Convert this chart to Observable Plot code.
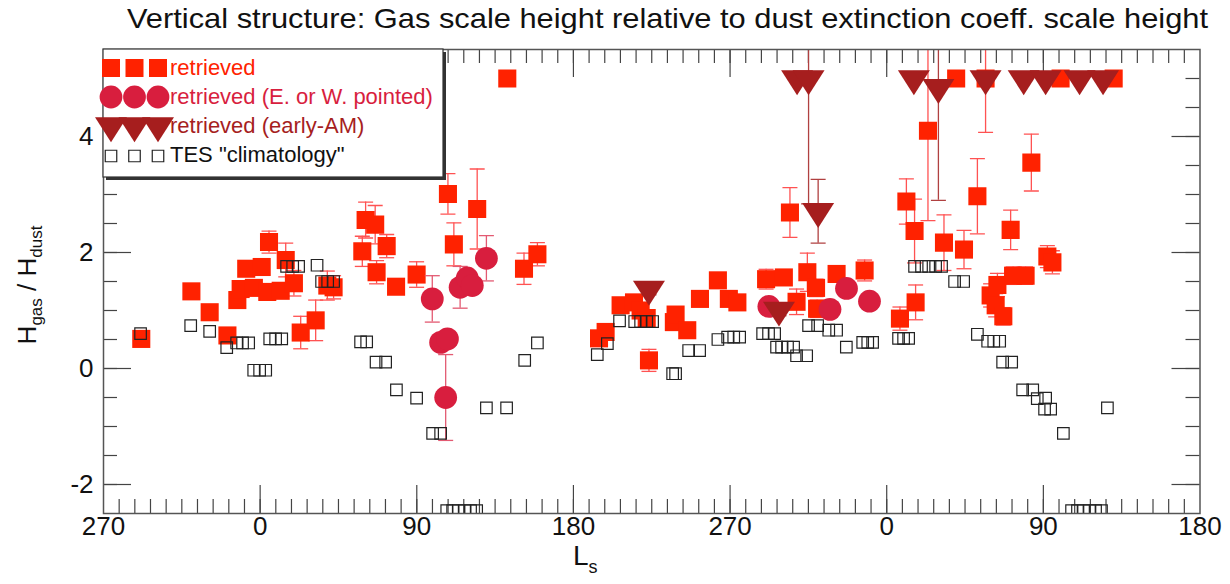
<!DOCTYPE html>
<html>
<head>
<meta charset="utf-8">
<script src="https://cdn.jsdelivr.net/npm/d3@7"></script>
<script src="https://cdn.jsdelivr.net/npm/@observablehq/plot@0.6"></script>
<style>
html, body { margin: 0; padding: 0; background: #fff; }
#wrap { position: relative; width: 1230px; height: 584px; }
</style>
</head>
<body>
<div id="wrap"></div>
<script>
// ---------------- DATA ----------------
// Ls is counted cumulatively: -90 = Ls 270 of the previous year, 0..360 first year, 360..540 second year.
const xTickPositions = [-90, 0, 90, 180, 270, 360, 450, 540];
const xTickLabels = ["270", "0", "90", "180", "270", "0", "90", "180"];
const yTickValues = [-2, 0, 2, 4];

// "retrieved" (red squares)
const retrievedLs = [-68.3, -39.5, -29.0, -18.8, -13.1, -11.2, -8.0, -3.6, 0.9, 4.1, 5.1, 11.8, 14.7, 19.4, 23.3, 31.9, 38.6, 42.2,
  58.7, 60.6, 66.1, 66.9, 72.7, 78.1, 89.9, 107.9, 111.3, 124.7, 142.0, 151.6, 159.3,
  194.7, 198.5, 207.1, 214.8, 218.6, 222.1, 223.4, 237.7, 238.7, 245.4, 252.7, 263.0, 269.3, 274.2,
  290.7, 300.9, 304.4, 308.2, 314.4, 319.4, 320.0, 331.2, 347.3,
  367.6, 371.3, 376.0, 376.6, 383.7, 392.9, 399.9, 404.4, 412.1, 416.8, 419.7, 422.6, 423.6, 427.0,
  431.2, 432.6, 439.8, 443.1, 452.3, 455.2, 459.9, 490.4];
const retrievedH = [0.51, 1.33, 0.97, 0.57, 1.18, 1.37, 1.72, 1.39, 1.75, 1.32, 2.18, 1.34, 1.87, 1.47, 0.62, 0.83, 1.43, 1.40,
  2.02, 2.56, 2.48, 1.66, 2.11, 1.41, 1.62, 3.01, 2.14, 2.75, 5.0, 1.72, 1.97,
  0.52, 0.63, 1.09, 1.14, 1.00, 0.87, 0.14, 0.80, 0.93, 0.66, 1.20, 1.52, 1.20, 1.14,
  1.54, 1.57, 2.69, 1.15, 1.66, 1.39, 1.03, 1.63, 1.69,
  0.86, 2.88, 2.37, 1.14, 4.10, 2.17, 5.0, 2.05, 2.97, 5.0, 1.26, 1.09, 1.44, 0.90,
  2.39, 1.60, 1.60, 3.55, 1.93, 1.83, 5.0, 5.0];
const retrievedErr = [0.05, 0.05, 0.05, 0.08, 0.10, 0.10, 0.10, 0.10, 0.10, 0.10, 0.19, 0.10, 0.29, 0.22, 0.28, 0.35, 0.25, 0.20,
  0.26, 0.31, 0.33, 0.20, 0.20, 0.10, 0.22, 0.35, 0.37, 0.69, 0, 0.27, 0.20,
  0.08, 0.08, 0.08, 0.08, 0.08, 0.08, 0.19, 0.08, 0.08, 0.08, 0.08, 0.08, 0.08, 0.08,
  0.17, 0.10, 0.43, 0.22, 0.33, 0.15, 0.15, 0.10, 0.18,
  0.20, 0.39, 0.55, 0.30, 1.55, 0.48, 0, 0.33, 0.65, 0.93, 0.20, 0.20, 0.20, 0.15,
  0.34, 0.15, 0.15, 0.49, 0.19, 0.20, 0, 0];

// "retrieved (E. or W. pointed)" (crimson circles)
const ewLs = [98.9, 103.7, 106.6, 107.6, 114.9, 119.0, 121.9, 130.0, 292.3, 327.4, 336.9, 350.1];
const ewH = [1.20, 0.45, -0.50, 0.51, 1.40, 1.56, 1.43, 1.90, 1.07, 1.02, 1.38, 1.16];
const ewErr = [0.40, 0.10, 0.74, 0.10, 0.36, 0.10, 0.10, 0.39, 0.10, 0.10, 0.10, 0.10];

// "retrieved (early-AM)" (dark red down triangles)
const amLs = [223.4, 298.1, 308.5, 315.1, 320.6, 375.6, 389.7, 416.8, 438.7, 451.3, 470.8, 484.3];
const amH = [1.37, 1.01, 5.0, 5.0, 2.71, 5.0, 4.85, 5.0, 5.0, 5.0, 5.0, 5.0];
const amErr = [0.10, 0.10, 0, 2.16, 0.55, 0, 1.95, 0, 0, 0, 0, 0];

// TES "climatology" (open squares)
const tesLs = [-68.7, -39.9, -29.0, -19.2, -13.5, -10.1, -6.6, -3.7, -0.3, 3.2, 5.5, 8.9, 12.4, 15.2, 18.7, 22.1, 32.7,
  35.3, 38.8, 42.2, 57.7, 61.2, 66.6, 72.1, 78.3, 89.9, 99.1, 103.7,
  107.2, 110.6, 114.0, 117.5, 120.9, 124.4, 130.0, 141.6, 152.0, 159.3,
  193.7, 199.5, 206.5, 215.2, 218.6, 222.1, 225.5, 237.0, 238.7, 246.2, 252.5, 263.0, 268.6, 272.1, 275.5,
  288.7, 292.1, 295.6, 296.7, 299.6, 303.0, 306.5, 308.2, 314.0, 315.1, 320.3, 326.7, 331.2, 336.8,
  346.2, 349.1, 351.9, 366.8, 369.7, 372.6, 376.0, 380.0, 384.1, 388.1, 391.5, 399.0, 404.2, 412.1,
  418.0, 421.5, 424.9, 426.6, 431.8, 438.1, 443.9, 446.5, 451.3, 450.7, 454.2, 461.5,
  466.2, 469.6, 473.1, 476.5, 480.0, 483.4, 486.8];
const tesH = [0.60, 0.74, 0.64, 0.36, 0.44, 0.44, 0.44, -0.03, -0.03, -0.03, 0.51, 0.51, 0.51, 1.76, 1.76, 1.76, 1.78,
  1.50, 1.50, 1.50, 0.46, 0.46, 0.11, 0.11, -0.37, -0.51, -1.12, -1.12,
  -2.45, -2.45, -2.45, -2.45, -2.45, -2.45, -0.68, -0.68, 0.14, 0.44,
  0.24, 0.43, 0.82, 0.81, 0.81, 0.81, 0.81, -0.09, -0.09, 0.31, 0.31, 0.50, 0.54, 0.54, 0.54,
  0.60, 0.60, 0.60, 0.37, 0.37, 0.37, 0.37, 0.22, 0.22, 0.74, 0.74, 0.66, 0.66, 0.37,
  0.45, 0.45, 0.45, 0.52, 0.52, 0.52, 1.76, 1.76, 1.76, 1.76, 1.76, 1.50, 1.50, 0.59,
  0.47, 0.47, 0.47, 0.11, 0.11, -0.37, -0.37, -0.52, -0.51, -0.70, -0.70, -1.12,
  -2.45, -2.45, -2.45, -2.45, -2.45, -2.45, -0.68];

// ---------------- STYLE ----------------
const C_RET = "#ff2200", C_EW = "#d81e3e", C_AM = "#a61e1e";
const C_RET_ERR = "#ff5252", C_EW_ERR = "#e35a72", C_AM_ERR = "#b04040";
const FONT = "'Liberation Sans', Arial, Helvetica, sans-serif";

const W = 1230, H = 584;
const mL = 103, mR = 30.5, mT = 49, mB = 71;
const iw = W - mL - mR, ih = H - mT - mB;

const toRows = (xs, ys, es) => xs.map((x, i) => ({x, y: ys[i], e: es ? es[i] : 0}));
const ret = toRows(retrievedLs, retrievedH, retrievedErr);
const ew = toRows(ewLs, ewH, ewErr);
const am = toRows(amLs, amH, amErr);
const tes = toRows(tesLs, tesH);

const dash = {draw(ctx, size) { const r = Math.sqrt(size / Math.PI); ctx.moveTo(-r, 0); ctx.lineTo(r, 0); }};
const triDown = {draw(ctx, size) {
  const r = Math.sqrt(size / Math.PI);
  ctx.moveTo(-1.39 * r, -0.72 * r); ctx.lineTo(1.39 * r, -0.72 * r); ctx.lineTo(0, 1.45 * r); ctx.closePath();
}};

function errMarks(rows, color) {
  const withErr = rows.filter(d => d.e > 0);
  return [
    Plot.ruleX(withErr, {x: "x", y1: d => d.y - d.e, y2: d => d.y + d.e, stroke: color, strokeWidth: 1.3, clip: true}),
    Plot.dot(withErr, {x: "x", y: d => d.y - d.e, symbol: dash, r: 7.5, stroke: color, fill: "none", strokeWidth: 1.3, clip: true}),
    Plot.dot(withErr, {x: "x", y: d => d.y + d.e, symbol: dash, r: 7.5, stroke: color, fill: "none", strokeWidth: 1.3, clip: true})
  ];
}

const xMinor = d3.range(-81, 540, 9);
const xMajor = xTickPositions.filter(d => d > -90 && d < 540);
const yMinor = d3.range(-2, 5.01, 0.5);
const yMajor = yTickValues;
const labelMap = new Map(xTickPositions.map((p, i) => [p, xTickLabels[i]]));
const TK = "#444";

const chart = Plot.plot({
  width: W, height: H,
  marginLeft: mL, marginRight: mR, marginTop: mT, marginBottom: mB,
  style: {fontFamily: FONT, background: "white", color: "#111"},
  x: {domain: [-90, 540]},
  y: {domain: [-2.5, 5.5]},
  marks: [
    // minor / major ticks on all four sides (inward)
    Plot.tickX(xMinor, {x: d => d, insetTop: ih - 14, stroke: TK, strokeWidth: 1.2}),
    Plot.tickX(xMajor, {x: d => d, insetTop: ih - 28, stroke: TK, strokeWidth: 1.2}),
    Plot.tickX(xMinor, {x: d => d, insetBottom: ih - 14, stroke: TK, strokeWidth: 1.2}),
    Plot.tickX(xMajor, {x: d => d, insetBottom: ih - 28, stroke: TK, strokeWidth: 1.2}),
    Plot.tickY(yMinor, {y: d => d, insetRight: iw - 14, stroke: TK, strokeWidth: 1.2}),
    Plot.tickY(yMajor, {y: d => d, insetRight: iw - 28, stroke: TK, strokeWidth: 1.2}),
    Plot.tickY(yMinor, {y: d => d, insetLeft: iw - 14, stroke: TK, strokeWidth: 1.2}),
    Plot.tickY(yMajor, {y: d => d, insetLeft: iw - 28, stroke: TK, strokeWidth: 1.2}),
    Plot.axisX({ticks: xTickPositions, tickFormat: d => labelMap.get(d), tickSize: 0, tickPadding: 3, fontSize: 26, label: null}),
    Plot.axisY({ticks: yTickValues, tickFormat: d => String(d), tickSize: 0, tickPadding: 10, fontSize: 26, label: null}),
    // data
    ...errMarks(ret, C_RET_ERR),
    Plot.dot(ret, {x: "x", y: "y", symbol: "square", r: 10.2, fill: C_RET, stroke: "none", clip: true}),
    ...errMarks(ew, C_EW_ERR),
    Plot.dot(ew, {x: "x", y: "y", symbol: "circle", r: 11.4, fill: C_EW, stroke: "none", clip: true}),
    ...errMarks(am, C_AM_ERR),
    Plot.dot(am, {x: "x", y: "y", symbol: triDown, r: 11.5, fill: C_AM, stroke: "none", clip: true}),
    Plot.dot(tes, {x: "x", y: "y", symbol: "square", r: 6.5, fill: "none", stroke: "#222", strokeWidth: 1.2, clip: true}),
    Plot.frame({stroke: "#555", strokeWidth: 1.5})
  ]
});

document.getElementById("wrap").appendChild(chart);
const svg = d3.select(chart);

// Title
svg.append("text")
  .attr("x", 667.5).attr("y", 28)
  .attr("text-anchor", "middle")
  .attr("font-family", FONT).attr("font-size", 28).attr("fill", "#111")
  .attr("textLength", 1081).attr("lengthAdjust", "spacingAndGlyphs")
  .text("Vertical structure: Gas scale height relative to dust extinction coeff. scale height");

// Y axis title with subscripts
const yl = svg.append("text")
  .attr("transform", "translate(36,285) rotate(-90)")
  .attr("text-anchor", "middle")
  .attr("font-family", FONT).attr("font-size", 26).attr("fill", "#111");
yl.append("tspan").text("H");
yl.append("tspan").attr("font-size", 17).attr("dy", 6).text("gas");
yl.append("tspan").attr("dy", -6).text(" / H");
yl.append("tspan").attr("font-size", 17).attr("dy", 6).text("dust");

// X axis title
const xl = svg.append("text")
  .attr("x", 573).attr("y", 565)
  .attr("text-anchor", "start")
  .attr("font-family", FONT).attr("font-size", 28).attr("fill", "#111");
xl.append("tspan").text("L");
xl.append("tspan").attr("font-size", 18).attr("dy", 8).text("s");

// Legend
const lg = svg.append("g");
lg.append("rect").attr("x", 106).attr("y", 52).attr("width", 340).attr("height", 128).attr("fill", "#333");
lg.append("rect").attr("x", 103).attr("y", 49).attr("width", 340).attr("height", 128)
  .attr("fill", "white").attr("stroke", "#333").attr("stroke-width", 1.2);
const lx = [111, 134.5, 158];
const sqPath = d3.symbol(d3.symbolSquare, 18 * 18)();
const cPath = d3.symbol(d3.symbolCircle, Math.PI * 11.4 * 11.4)();
const tPath = d3.symbol(triDown, Math.PI * 11.5 * 11.5)();
const tesPath = d3.symbol(d3.symbolSquare, 11.5 * 11.5)();
lx.forEach(x => {
  lg.append("path").attr("d", sqPath).attr("transform", `translate(${x},68)`).attr("fill", C_RET);
  lg.append("path").attr("d", cPath).attr("transform", `translate(${x},97)`).attr("fill", C_EW);
  lg.append("path").attr("d", tPath).attr("transform", `translate(${x},125.5)`).attr("fill", C_AM);
  lg.append("path").attr("d", tesPath).attr("transform", `translate(${x},156)`).attr("fill", "none").attr("stroke", "#222").attr("stroke-width", 1.2);
});
const legendItems = [
  {t: "retrieved", c: C_RET, y: 75},
  {t: "retrieved (E. or W. pointed)", c: C_EW, y: 103.5},
  {t: "retrieved (early-AM)", c: C_AM, y: 132.5},
  {t: "TES \"climatology\"", c: "#111", y: 162}
];
legendItems.forEach(d => {
  lg.append("text").attr("x", 170).attr("y", d.y)
    .attr("text-anchor", "start")
    .attr("font-family", FONT).attr("font-size", 22).attr("fill", d.c).text(d.t);
});
</script>
</body>
</html>
